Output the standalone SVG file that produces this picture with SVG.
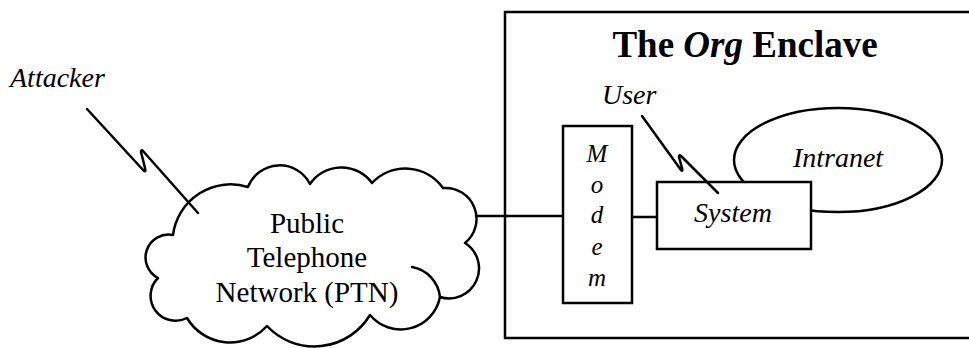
<svg xmlns="http://www.w3.org/2000/svg" width="969" height="348" viewBox="0 0 969 348">
<style>
.ln{fill:none;stroke:#000;stroke-width:2.5;stroke-linejoin:round;stroke-linecap:round}
.box{fill:#fff;stroke:#000;stroke-width:2.5}
.t{font-family:"Liberation Serif","Times New Roman",serif;fill:#000}
.it{font-style:italic}
</style>
<rect width="969" height="348" fill="#fff"/>
<g id="enclave">
<rect x="505" y="12" width="470" height="326" fill="none" stroke="#000" stroke-width="2.5"/>
<text class="t" x="745" y="57" font-size="37" font-weight="bold" text-anchor="middle">The <tspan font-style="italic">Org</tspan> Enclave</text>
</g>
<g id="connectors">
<line class="ln" x1="477" y1="216" x2="563" y2="216"/>
<line class="ln" x1="632" y1="217" x2="657" y2="217"/>
</g>
<g id="ptn">
<path class="ln" fill="#fff" style="fill:#fff" d="M173,235 A58,58 0 0 1 248,187 A34,34 0 0 1 310,184 A38,38 0 0 1 372,183 A46,46 0 0 1 443,188 A31,31 0 0 1 465,243 A30,30 0 0 1 440,297 A40,40 0 0 1 370,315 A65,65 0 0 1 267,326 A50,50 0 0 1 187,318 A25,25 0 0 1 158,278 A23,23 0 0 1 173,235 Z"/>
<path class="ln" d="M412,267 A34,34 0 0 1 440,297"/>
<text class="t" font-size="29" text-anchor="middle"><tspan x="307" y="233">Public</tspan><tspan x="307" y="267">Telephone</tspan><tspan x="307" y="302">Network (PTN)</tspan></text>
</g>
<g id="attacker">
<text class="t it" x="10" y="87" font-size="28">Attacker</text>
<path class="ln" d="M87,109 L144,171 Q146,172 145,168 L141,152 Q141,149 143,151 L198,213"/>
</g>
<g id="intranet">
<ellipse cx="838" cy="160" rx="104" ry="52" fill="#fff" stroke="#000" stroke-width="2.5"/>
<text class="t it" x="838" y="167" font-size="28" text-anchor="middle">Intranet</text>
</g>
<g id="modem">
<rect class="box" x="563" y="126" width="69" height="177"/>
<g class="t it" font-size="25" text-anchor="middle">
<text x="597" y="162">M</text>
<text x="597" y="193">o</text>
<text x="597" y="223">d</text>
<text x="597" y="255">e</text>
<text x="597" y="286">m</text>
</g>
</g>
<g id="system">
<rect class="box" x="657" y="182" width="154" height="67"/>
<text class="t it" x="733" y="222" font-size="28" text-anchor="middle">System</text>
</g>
<g id="user">
<text class="t it" x="602" y="104" font-size="28">User</text>
<path class="ln" d="M642,116 L681,170 Q683,172 682,168 L679,157 Q679,154 681,156 L718,193"/>
</g>
</svg>
